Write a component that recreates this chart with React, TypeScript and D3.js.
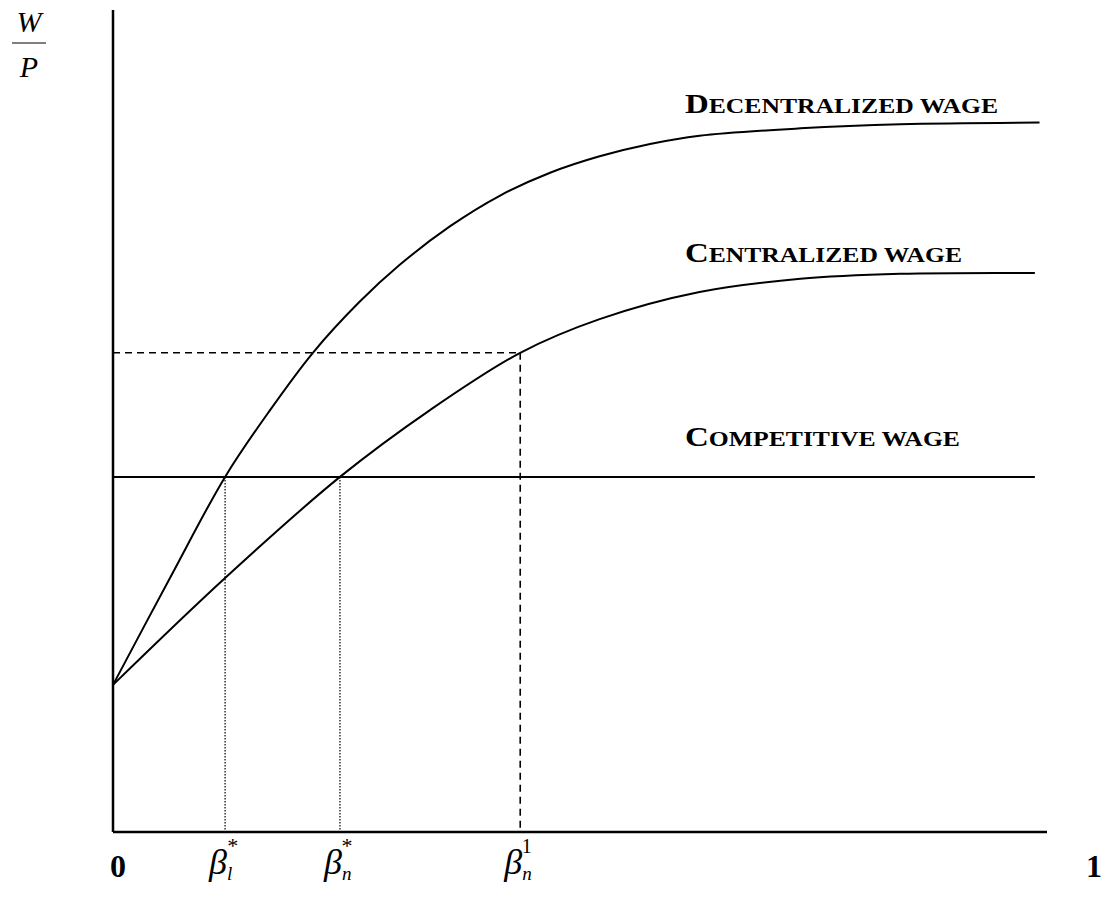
import React from "react";
import * as d3 from "d3";

// x: share parameter beta in [0,1]; y: real wage W/P in [0,1] (relative)
const decentralizedX = [0, 0.061, 0.12, 0.168, 0.214, 0.264, 0.307, 0.361, 0.414, 0.468, 0.521, 0.575, 0.628, 0.736, 0.843, 0.992];
const decentralizedY = [0.179, 0.309, 0.432, 0.513, 0.583, 0.645, 0.69, 0.737, 0.774, 0.802, 0.822, 0.837, 0.847, 0.856, 0.861, 0.863];
const centralizedX = [0, 0.12, 0.243, 0.339, 0.436, 0.521, 0.628, 0.736, 0.843, 0.987];
const centralizedY = [0.179, 0.309, 0.432, 0.513, 0.583, 0.624, 0.657, 0.673, 0.679, 0.68];
const competitiveX = [0, 0.987];
const competitiveY = [0.432, 0.432];

const betaL = 0.12;
const betaN = 0.243;
const betaN1 = 0.436;
const wageAtBetaN1 = 0.583;

const W = 1102;
const H = 901;

const x = d3.scaleLinear().domain([0, 1]).range([113, 1047]);
const y = d3.scaleLinear().domain([0, 1]).range([832, 10]);

const line = d3
  .line<[number, number]>()
  .x((d) => x(d[0]))
  .y((d) => y(d[1]))
  .curve(d3.curveCatmullRom.alpha(0.5));

const zip = (a: number[], b: number[]) => a.map((v, i) => [v, b[i]] as [number, number]);

const serif = "'Liberation Serif', 'DejaVu Serif', serif";

function SmallCaps({ x0, y0, text, len }: { x0: number; y0: number; text: string; len: number }) {
  return (
    <text x={x0} y={y0} fontFamily={serif} fontWeight="bold" textLength={len} lengthAdjust="spacingAndGlyphs">
      <tspan fontSize={27}>{text[0]}</tspan>
      <tspan fontSize={21}>{text.slice(1)}</tspan>
    </text>
  );
}

function Beta({ cx, sub, sup }: { cx: number; sub: string; sup: string }) {
  return (
    <text x={cx - 16} y={874} fontFamily={serif} fontStyle="italic" fontSize={36}>
      β
      <tspan fontSize={19} dy={6}>{sub}</tspan>
      <tspan fontSize={sup === "*" ? 22 : 20} fontStyle="normal" dx={sub === "l" ? -5 : -10} dy={-27}>{sup}</tspan>
    </text>
  );
}

export default function App() {
  return (
    <svg width={W} height={H} style={{ position: "absolute", left: 0, top: 0, background: "#fff" }}>
      <rect width={W} height={H} fill="#fff" />
      {/* axes */}
      <line x1={x(0)} y1={y(1)} x2={x(0)} y2={y(0)} stroke="#000" strokeWidth={2.5} />
      <line x1={x(0)} y1={y(0)} x2={x(1)} y2={y(0)} stroke="#000" strokeWidth={2.5} />

      {/* guide lines */}
      <line x1={x(betaL)} y1={y(competitiveY[0])} x2={x(betaL)} y2={y(0)} stroke="#000" strokeWidth={1.2} strokeDasharray="1.5,1.5" />
      <line x1={x(betaN)} y1={y(competitiveY[0])} x2={x(betaN)} y2={y(0)} stroke="#000" strokeWidth={1.2} strokeDasharray="1.5,1.5" />
      <line x1={x(betaN1)} y1={y(wageAtBetaN1)} x2={x(betaN1)} y2={y(0)} stroke="#000" strokeWidth={1.6} strokeDasharray="7,5" />
      <line x1={x(0)} y1={y(wageAtBetaN1)} x2={x(betaN1)} y2={y(wageAtBetaN1)} stroke="#000" strokeWidth={1.6} strokeDasharray="7,5" />

      {/* curves */}
      <path d={line(zip(competitiveX, competitiveY)) || ""} fill="none" stroke="#000" strokeWidth={2} />
      <path d={line(zip(decentralizedX, decentralizedY)) || ""} fill="none" stroke="#000" strokeWidth={2} />
      <path d={line(zip(centralizedX, centralizedY)) || ""} fill="none" stroke="#000" strokeWidth={2} />

      {/* curve labels */}
      <SmallCaps x0={685} y0={113} text="DECENTRALIZED WAGE" len={313} />
      <SmallCaps x0={685} y0={262} text="CENTRALIZED WAGE" len={277} />
      <SmallCaps x0={685} y0={446} text="COMPETITIVE WAGE" len={275} />

      {/* y axis label W/P */}
      <text x={29} y={32} textAnchor="middle" fontFamily={serif} fontStyle="italic" fontSize={30}>W</text>
      <line x1={12} y1={43} x2={46} y2={43} stroke="#000" strokeWidth={1.2} />
      <text x={29} y={77} textAnchor="middle" fontFamily={serif} fontStyle="italic" fontSize={30}>P</text>

      {/* x axis labels */}
      <text x={118} y={877} textAnchor="middle" fontFamily={serif} fontWeight="bold" fontSize={32}>0</text>
      <Beta cx={x(betaL)} sub="l" sup="*" />
      <Beta cx={x(betaN)} sub="n" sup="*" />
      <Beta cx={x(betaN1)} sub="n" sup="1" />
      <text x={1094} y={877} textAnchor="middle" fontFamily={serif} fontWeight="bold" fontSize={32}>1</text>
    </svg>
  );
}
